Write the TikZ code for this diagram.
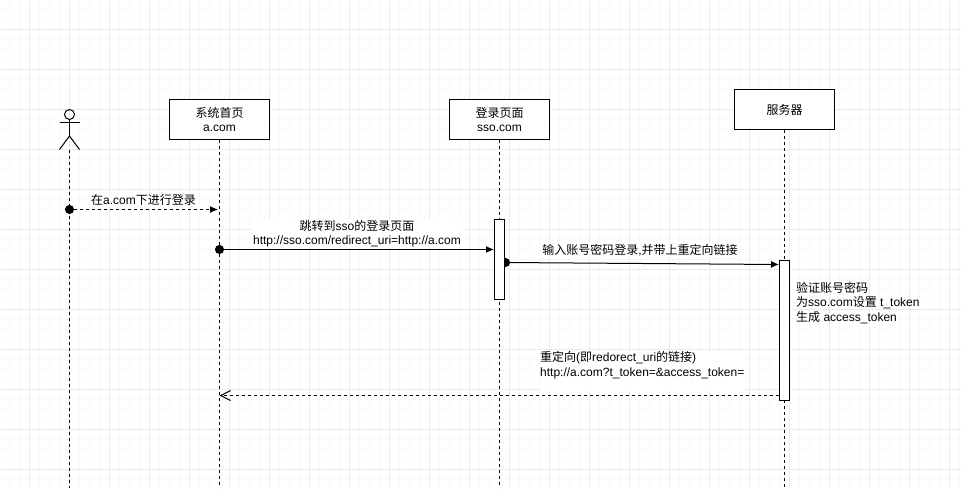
\documentclass[tikz,border=0pt]{standalone}
\usepackage{fontspec}
\setmainfont{Liberation Sans}
\newfontfamily\cjk{Noto Sans CJK SC}
\usetikzlibrary{positioning, arrows.meta}
\definecolor{gridminor}{HTML}{F9F9F9}
\definecolor{gridmajor}{HTML}{EBEBEB}
\tikzset{
    party/.style={draw, line width=1pt, fill=white, minimum width=100pt, minimum height=40pt, inner sep=0pt, align=center, font=\fontsize{12pt}{14.5pt}\selectfont},
    lifeline/.style={line width=1pt, dash pattern=on 3pt off 3pt},
    activation/.style={draw, line width=1pt, fill=white, minimum width=10pt, inner sep=0pt},
    msglabel/.style={fill=white, inner sep=1pt, align=center, font=\fontsize{12pt}{14.5pt}\selectfont},
    note/.style={inner sep=0pt, align=left, font=\fontsize{12pt}{14.5pt}\selectfont},
    callmsg/.style={line width=1pt, shorten <=-4.5pt, {Circle[length=9pt]}-{Latex[length=8pt,width=7pt]}},
    backmsg/.style={line width=1pt, dash pattern=on 3pt off 3pt, -{Straight Barb[length=10pt,width=10pt]}}
}
\begin{document}
\begin{tikzpicture}[x=1pt, y=-1pt]

    \useasboundingbox (0,0) rectangle (962,488);

    % Background grid
    \foreach \gx in {9.5,19.5,...,959.5} \draw[gridminor, line width=1pt] (\gx,0) -- (\gx,488);
    \foreach \gy in {9.5,19.5,...,479.5} \draw[gridminor, line width=1pt] (0,\gy) -- (962,\gy);
    \foreach \gx in {29.5,69.5,...,949.5} \draw[gridmajor, line width=1pt] (\gx,0) -- (\gx,488);
    \foreach \gy in {29.5,69.5,...,469.5} \draw[gridmajor, line width=1pt] (0,\gy) -- (962,\gy);

    % Participants
    \node[party] (home) at (219.5,119.5) {{\cjk 系统首页}\\a.com};
    \node[party] (login) at (499.5,119.5) {{\cjk 登录页面}\\sso.com};
    \node[party] (server) at (784.5,109.5) {{\cjk 服务器}};

    % Actor
    \node[circle, draw, line width=1pt, minimum size=10pt, inner sep=0pt] (head) at (69.5,114.5) {};
    \coordinate (hip) at (69.5,136);
    \coordinate (feet) at (69.5,149.5);
    \draw[line width=1pt] (head) -- (hip);
    \draw[line width=1pt] (59.5,122.5) -- (79.5,122.5);
    \draw[line width=1pt] (59.5,149.5) -- (hip) -- (79.5,149.5);

    % Lifelines
    \coordinate (userend) at (69.5,488);
    \coordinate (homeend) at (219.5,488);
    \coordinate (loginend) at (499.5,488);
    \coordinate (serverend) at (784.5,488);
    \draw[lifeline] (feet) -- (userend);
    \draw[lifeline] (home.south) -- (homeend);
    \draw[lifeline] (login.south) -- (loginend);
    \draw[lifeline] (server.south) -- (serverend);

    % Submit credentials, its dot goes under the bar
    \coordinate (m3a) at (505.5,262.5);
    \coordinate (m3b) at (779,264.5);
    \draw[callmsg] (m3a) -- (m3b);
    \node[msglabel] (m3text) at (640,250) {{\cjk 输入账号密码登录}{,}{\cjk 并带上重定向链接}};

    % Activation bars
    \node[activation, minimum height=80pt] (loginbar) at (499.5,259.5) {};
    \node[activation, minimum height=140pt] (serverbar) at (784.5,330.5) {};

    % First message
    \coordinate (m1a) at (69.5,209.5);
    \coordinate (m1b) at (218,209.5);
    \draw[callmsg, dash pattern=on 3pt off 3pt] (m1a) -- (m1b);
    \node[msglabel] (m1text) at (143.5,200) {{\cjk 在}a.com{\cjk 下进行登录}};

    % Redirect to login page
    \coordinate (m2a) at (219.5,249.5);
    \draw[callmsg] (m2a) -- (loginbar.west |- m2a);
    \node[msglabel] (m2text) at (357,233.5) {{\cjk 跳转到}sso{\cjk 的登录页面}\\http://sso.com/redirect\_uri=http://a.com};

    % Server note
    \node[note, anchor=north west] (servernote) at (796,282) {{\cjk 验证账号密码}\\{\cjk 为}sso.com{\cjk 设置} t\_token\\{\cjk 生成} access\_token};

    % Redirect back
    \coordinate (m4a) at (779,395.5);
    \coordinate (m4b) at (219.5,395.5);
    \draw[backmsg] (m4a) -- (m4b);
    \node[msglabel, align=left, anchor=north west, inner sep=0pt, text depth=14pt] (m4text) at (540,351.5) {{\cjk 重定向}({\cjk 即}redorect\_uri{\cjk 的链接})\\http://a.com?t\_token=\&access\_token=};

\end{tikzpicture}
\end{document}
